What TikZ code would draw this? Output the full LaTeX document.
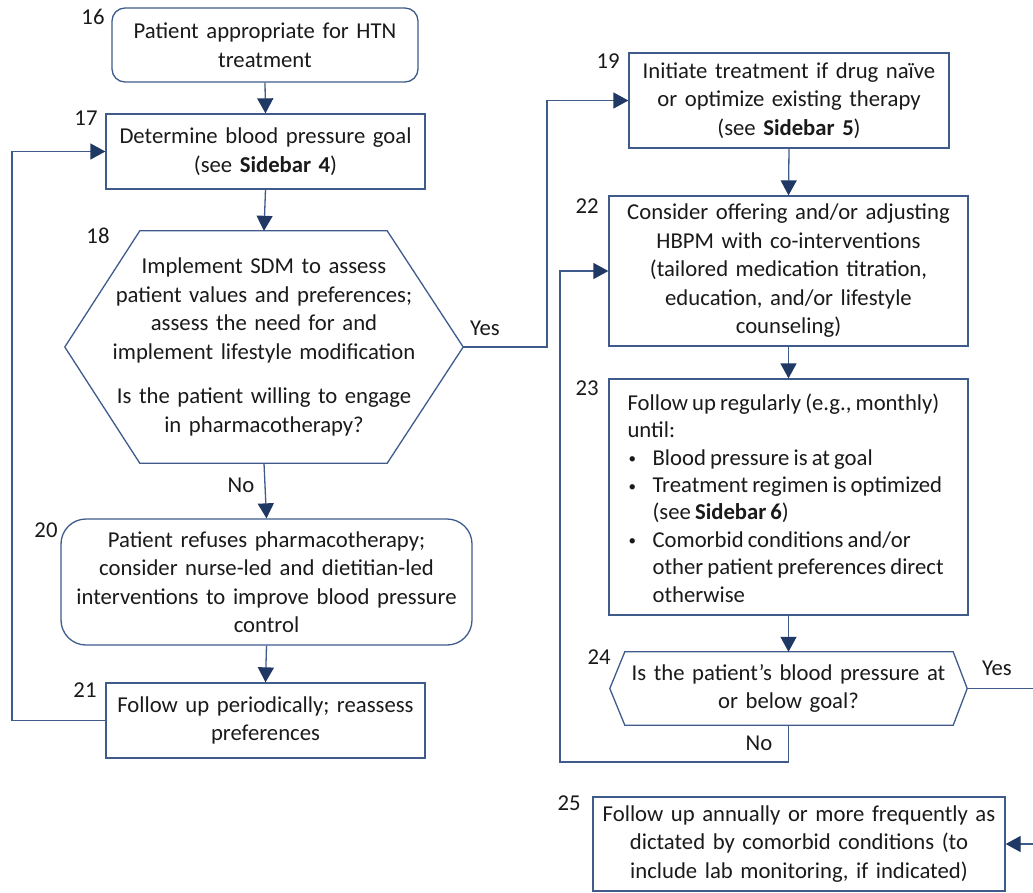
\documentclass[tikz,border=0pt]{standalone}
\usepackage{fontspec}
\setmainfont[WordSpace=0.8]{Carlito}
\usetikzlibrary{arrows.meta}
\definecolor{linec}{HTML}{3F5B8C}
\definecolor{tipc}{HTML}{1F3864}
\definecolor{txtc}{HTML}{1A1A1A}
\newcommand\fsz{\fontsize{22.7}{28.5}\selectfont}
\newcommand\fszb{\fontsize{22.7}{27.4}\selectfont}
\newcommand\bul{\makebox[25pt][l]{\hspace{1pt}\fontsize{15}{15}\selectfont\raisebox{1.5pt}{•}}}
\tikzset{
  box/.style={draw=linec, line width=1.3pt, inner sep=0pt, align=center, text=txtc, font=\fsz},
  hexbox/.style={draw=none, inner sep=0pt, align=center, text=txtc, font=\fsz},
  hexline/.style={draw=linec, line width=1.3pt, line join=miter},
  txt/.style={inner sep=0pt, text=txtc, font=\fsz},
  num/.style={inner sep=0pt, text=txtc, font=\fsz},
  conn/.style={draw=linec, line width=1.3pt, -{Triangle[width=16pt,length=15pt,color=tipc]}},
  plain/.style={draw=linec, line width=1.3pt}
}
\begin{document}
\begin{tikzpicture}[x=1pt,y=-1pt]
\useasboundingbox (0,0) rectangle (1033,892);
\clip (0,0) rectangle (1033,892);
\fill[white] (0,0) rectangle (1033,892);

% nodes
\node[box, rounded corners=13pt, minimum width=306pt, minimum height=74pt, text width=302pt] (n16) at (265,45) {Patient appropriate for HTN\\treatment};
\node[box, minimum width=319pt, minimum height=75pt, text width=315pt] (n17) at (265.5,151.5) {Determine blood pressure goal\\(see \textbf{Sidebar 4})};
\node[hexbox, minimum width=398pt, minimum height=232pt, text width=380pt] (n18) at (264,347) {Implement SDM to assess\\patient values and preferences;\\assess the need for and\\implement lifestyle modification\\[16pt]Is the patient willing to engage\\in pharmacotherapy?};
\draw[hexline] ([xshift=75pt]n18.north west) -- ([xshift=-76pt]n18.north east) -- (n18.east) -- ([xshift=-76pt]n18.south east) -- ([xshift=75pt]n18.south west) -- (n18.west) -- cycle;
\node[box, rounded corners=25pt, minimum width=411pt, minimum height=126pt, text width=407pt] (n20) at (266.5,582) {Patient refuses pharmacotherapy;\\consider nurse-led and dietitian-led\\interventions to improve blood pressure\\control};
\node[box, minimum width=319pt, minimum height=75pt, text width=315pt] (n21) at (265.5,720.5) {Follow up periodically; reassess\\preferences};

\node[box, minimum width=320pt, minimum height=95pt, text width=316pt] (n19) at (789,100.5) {Initiate treatment if drug naïve\\or optimize existing therapy\\(see \textbf{Sidebar 5})};
\node[box, minimum width=359pt, minimum height=150pt, text width=355pt] (n22) at (788.5,271) {Consider offering and/or adjusting\\HBPM with co-interventions\\(tailored medication titration,\\education, and/or lifestyle\\counseling)};
\node[box, minimum width=359pt, minimum height=236pt] (n23) at (788.5,497) {};
\node[txt, anchor=west, align=left, font=\fszb] (t23) at ([xshift=19pt,yshift=-1pt]n23.west) {Follow up regularly (e.g., monthly)\\until:\\\bul Blood pressure is at goal\\\bul Treatment regimen is optimized\\\hspace*{25pt}(see \textbf{Sidebar 6})\\\bul Comorbid conditions and/or\\\hspace*{25pt}other patient preferences direct\\\hspace*{25pt}otherwise};
\node[hexbox, minimum width=357pt, minimum height=73pt, text width=340pt] (n24) at (788.5,688.5) {Is the patient’s blood pressure at\\or below goal?};
\draw[hexline] ([xshift=15pt]n24.north west) -- ([xshift=-14pt]n24.north east) -- (n24.east) -- ([xshift=-14pt]n24.south east) -- ([xshift=15pt]n24.south west) -- (n24.west) -- cycle;
\node[box, minimum width=412pt, minimum height=94pt, text width=408pt] (n25) at (799,844) {Follow up annually or more frequently as\\dictated by comorbid conditions (to\\include lab monitoring, if indicated)};

% step numbers
\node[num] (l16) at (93,17) {16};
\node[num] (l17) at (86,118) {17};
\node[num] (l18) at (98,236) {18};
\node[num] (l20) at (46,530) {20};
\node[num] (l21) at (85,690) {21};
\node[num] (l19) at (608,61) {19};
\node[num] (l22) at (587,206) {22};
\node[num] (l23) at (587,388) {23};
\node[num] (l24) at (599,657) {24};
\node[num] (l25) at (569,803) {25};

% connectors
\draw[conn] (n16.south) -- (n17.north);
\draw[conn] (n17.south) -- (n18.north);
\coordinate (yes18) at (547,347);
\draw[conn] (n18.east) -- (yes18) |- (n19.west);
\node[txt] (lyes18) at (485,328) {Yes};
\draw[conn] (n18.south) -- (n20.north);
\node[txt] (lno18) at (241,485) {No};
\draw[conn] (n20.south) -- (n21.north);
\coordinate (loop) at (12,720.5);
\draw[conn] (n21.west) -- (loop) |- (n17.west);
\draw[conn] (n19.south) -- (n22.north);
\draw[conn] (n22.south) -- (n23.north);
\draw[conn] (n23.south) -- (n24.north);
\coordinate (no24) at (560,762);
\draw[conn] (n24.south) |- (no24) |- (n22.west);
\node[txt] (lno24) at (759,743) {No};
\coordinate (yes24) at (1050,688.5);
\draw[conn] (n24.east) -- (yes24) |- (n25.east);
\node[txt] (lyes24) at (997,668) {Yes};
\end{tikzpicture}
\end{document}
